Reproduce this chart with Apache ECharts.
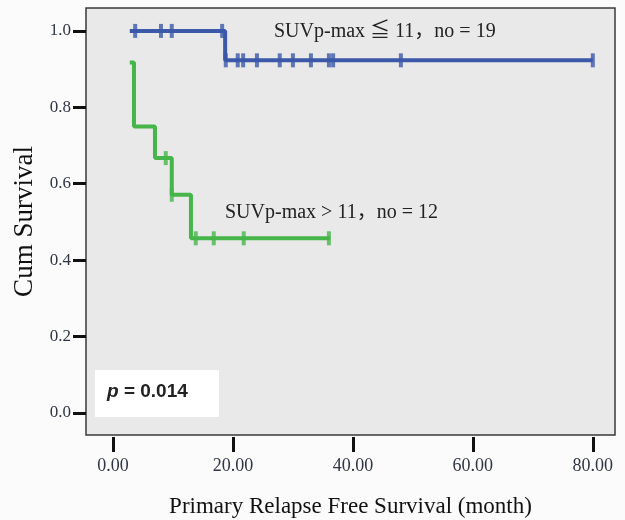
<!DOCTYPE html>
<html>
<head>
<meta charset="utf-8">
<script src="https://cdn.jsdelivr.net/npm/echarts@6/dist/echarts.min.js"></script>
<style>
  html, body { margin: 0; padding: 0; background: #fbfbfb; }
  #chart { width: 625px; height: 520px; }
</style>
</head>
<body>
<div id="chart"></div>
<script>
// Kaplan-Meier steps (month, cumulative survival)
const lowT = [2.8, 18.7, 80.0];
const lowS = [1.0, 0.923, 0.923];
const highT = [2.8, 3.5, 7.0, 9.8, 13.0, 36.2];
const highS = [0.917, 0.75, 0.667, 0.571, 0.457, 0.457];

// censored cases
const lowCensT = [3.7, 8.0, 9.8, 18.2, 18.8, 20.8, 21.7, 24.0, 27.8, 30.0, 33.0, 36.0, 36.7, 48.0, 80.0];
const lowCensS = [1.0, 1.0, 1.0, 1.0, 0.923, 0.923, 0.923, 0.923, 0.923, 0.923, 0.923, 0.923, 0.923, 0.923, 0.923];
const highCensT = [8.8, 9.8, 13.8, 16.8, 21.8, 36.0];
const highCensS = [0.667, 0.571, 0.457, 0.457, 0.457, 0.457];

const xTicks = [0, 20, 40, 60, 80];
const yTicks = [0, 0.2, 0.4, 0.6, 0.8, 1.0];

const labelLow = 'SUVp-max ≦ 11，no = 19';
const labelHigh = 'SUVp-max > 11，no = 12';
const pText = 'p = 0.014';

const BLUE = '#3b58a9';
const GREEN = '#46b54a';
const serif = '"Liberation Serif", "Noto Sans CJK JP", serif';

const zip = (a, b) => a.map((v, i) => [v, b[i]]);

const chart = echarts.init(document.getElementById('chart'), null, { renderer: 'canvas' });

chart.setOption({
  backgroundColor: '#fbfbfb',
  animation: false,
  grid: {
    left: 86, top: 8, right: 10, bottom: 85,
    show: true,
    backgroundColor: '#e9e9e9',
    borderColor: '#3a3a3a',
    borderWidth: 1.5,
    outerBoundsMode: 'none'
  },
  xAxis: {
    type: 'value',
    min: -4.5,
    max: 83.7,
    offset: 2,
    axisLine: { show: false, onZero: false },
    splitLine: { show: false },
    axisTick: {
      show: true, length: 15, customValues: xTicks,
      lineStyle: { color: '#111', width: 3 }
    },
    axisLabel: {
      customValues: xTicks, margin: 20,
      fontFamily: serif, fontSize: 18, color: '#2f3545',
      formatter: v => v.toFixed(2)
    },
    name: 'Primary Relapse Free Survival (month)',
    nameLocation: 'middle',
    nameGap: 58,
    nameMoveOverlap: false,
    nameTextStyle: { fontFamily: serif, fontSize: 23, color: '#111' }
  },
  yAxis: {
    type: 'value',
    min: -0.058,
    max: 1.06,
    axisLine: { show: false, onZero: false },
    splitLine: { show: false },
    axisTick: {
      show: true, length: 13, customValues: yTicks,
      lineStyle: { color: '#111', width: 3 }
    },
    axisLabel: {
      customValues: yTicks, margin: 15,
      fontFamily: serif, fontSize: 17, color: '#2f3545',
      formatter: v => v.toFixed(1)
    },
    name: 'Cum Survival',
    nameLocation: 'middle',
    nameGap: 48,
    nameMoveOverlap: false,
    nameTextStyle: { fontFamily: serif, fontSize: 27, color: '#111' }
  },
  series: [
    {
      name: 'low', type: 'line', step: 'end', showSymbol: false,
      data: zip(lowT, lowS),
      lineStyle: { color: BLUE, width: 4 }, z: 3
    },
    {
      name: 'high', type: 'line', step: 'end', showSymbol: false,
      data: zip(highT, highS),
      lineStyle: { color: GREEN, width: 4 }, z: 2
    },
    {
      type: 'scatter', symbol: 'rect', symbolSize: [4, 14],
      data: zip(lowCensT, lowCensS),
      itemStyle: { color: BLUE }, z: 4
    },
    {
      type: 'scatter', symbol: 'rect', symbolSize: [4, 14],
      data: zip(highCensT, highCensS),
      itemStyle: { color: GREEN }, z: 4
    }
  ],
  graphic: [
    {
      type: 'text', left: 274, top: 22, z: 10,
      style: { text: labelLow, font: '20px ' + serif, fill: '#222' }
    },
    {
      type: 'text', left: 225, top: 203, z: 10,
      style: { text: labelHigh, font: '20px ' + serif, fill: '#222' }
    },
    {
      type: 'rect', z: 10,
      shape: { x: 95, y: 370, width: 124, height: 47 },
      style: { fill: '#ffffff' }
    },
    {
      type: 'text', left: 107, top: 382, z: 11,
      style: {
        rich: {
          i: { fontFamily: '"Liberation Sans", Arial, sans-serif', fontSize: 19, fontWeight: 'bold', fontStyle: 'italic', fill: '#222' },
          b: { fontFamily: '"Liberation Sans", Arial, sans-serif', fontSize: 19, fontWeight: 'bold', fill: '#222' }
        },
        text: '{i|' + pText.slice(0, 1) + '}{b|' + pText.slice(1) + '}'
      }
    }
  ]
});
</script>
</body>
</html>
